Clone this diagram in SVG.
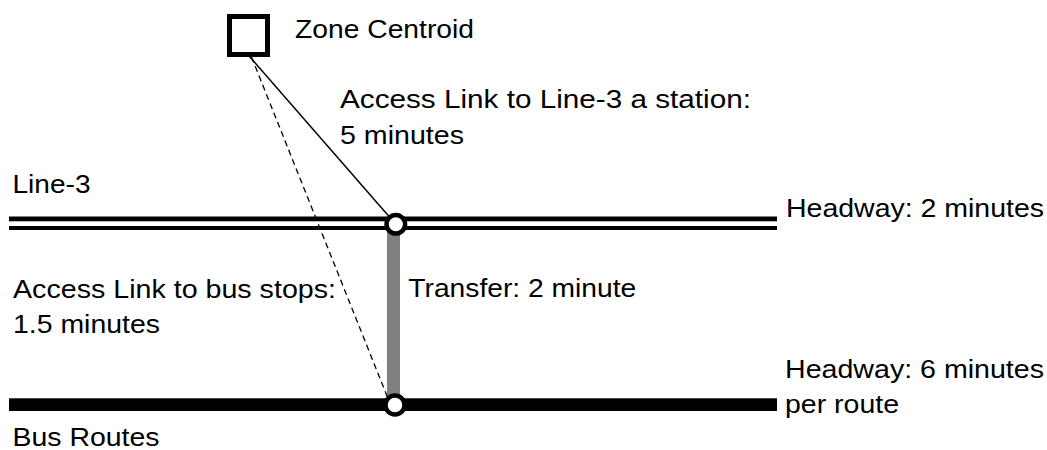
<svg xmlns="http://www.w3.org/2000/svg" width="1047" height="450" viewBox="0 0 1047 450">
<style>
text{font-family:"Liberation Sans",Arial,sans-serif;font-size:26px;fill:#000;}
.stop{fill:#fff;stroke:#000;stroke-width:4.5;}
</style>
<rect width="1047" height="450" fill="#fff"/>
<g id="line3">
<rect x="9" y="216.5" width="768" height="13.5" fill="#000"/>
<rect x="9" y="221.3" width="768" height="4.7" fill="#fff"/>
<text x="12.5" y="193.3" textLength="78" lengthAdjust="spacingAndGlyphs">Line-3</text>
<text x="786" y="217" textLength="258" lengthAdjust="spacingAndGlyphs">Headway: 2 minutes</text>
</g>
<g id="bus">
<rect x="9" y="398.3" width="768" height="12.7" fill="#000"/>
<text x="12.5" y="445.7" textLength="147" lengthAdjust="spacingAndGlyphs">Bus Routes</text>
<text x="785" y="378.3" textLength="259" lengthAdjust="spacingAndGlyphs">Headway: 6 minutes</text>
<text x="785" y="413.3" textLength="114" lengthAdjust="spacingAndGlyphs">per route</text>
</g>
<g id="connectors">
<rect id="transfer" x="387" y="228" width="13" height="172" fill="#808080"/>
<line x1="249.5" y1="56.5" x2="395.8" y2="224.3" stroke="#000" stroke-width="1.5"/>
<line x1="251.5" y1="57" x2="389" y2="401" stroke="#000" stroke-width="1.3" stroke-dasharray="6,4"/>
</g>
<g id="centroid">
<rect x="229.5" y="16.5" width="38" height="38" fill="#fff" stroke="#000" stroke-width="5"/>
<text x="295" y="37.5" textLength="179" lengthAdjust="spacingAndGlyphs">Zone Centroid</text>
</g>
<g id="station-line3">
<circle class="stop" cx="395.8" cy="224.3" r="9.3"/>
</g>
<g id="station-bus">
<circle class="stop" cx="395" cy="405" r="9.5"/>
</g>
<g id="labels">
<text x="340" y="107.5" textLength="411" lengthAdjust="spacingAndGlyphs">Access Link to Line-3 a station:</text>
<text x="340" y="143.5" textLength="124" lengthAdjust="spacingAndGlyphs">5 minutes</text>
<text x="13" y="298.3" textLength="323" lengthAdjust="spacingAndGlyphs">Access Link to bus stops:</text>
<text x="13" y="333.3" textLength="147" lengthAdjust="spacingAndGlyphs">1.5 minutes</text>
<text x="408.3" y="297.3" textLength="228" lengthAdjust="spacingAndGlyphs">Transfer: 2 minute</text>
</g>
</svg>
